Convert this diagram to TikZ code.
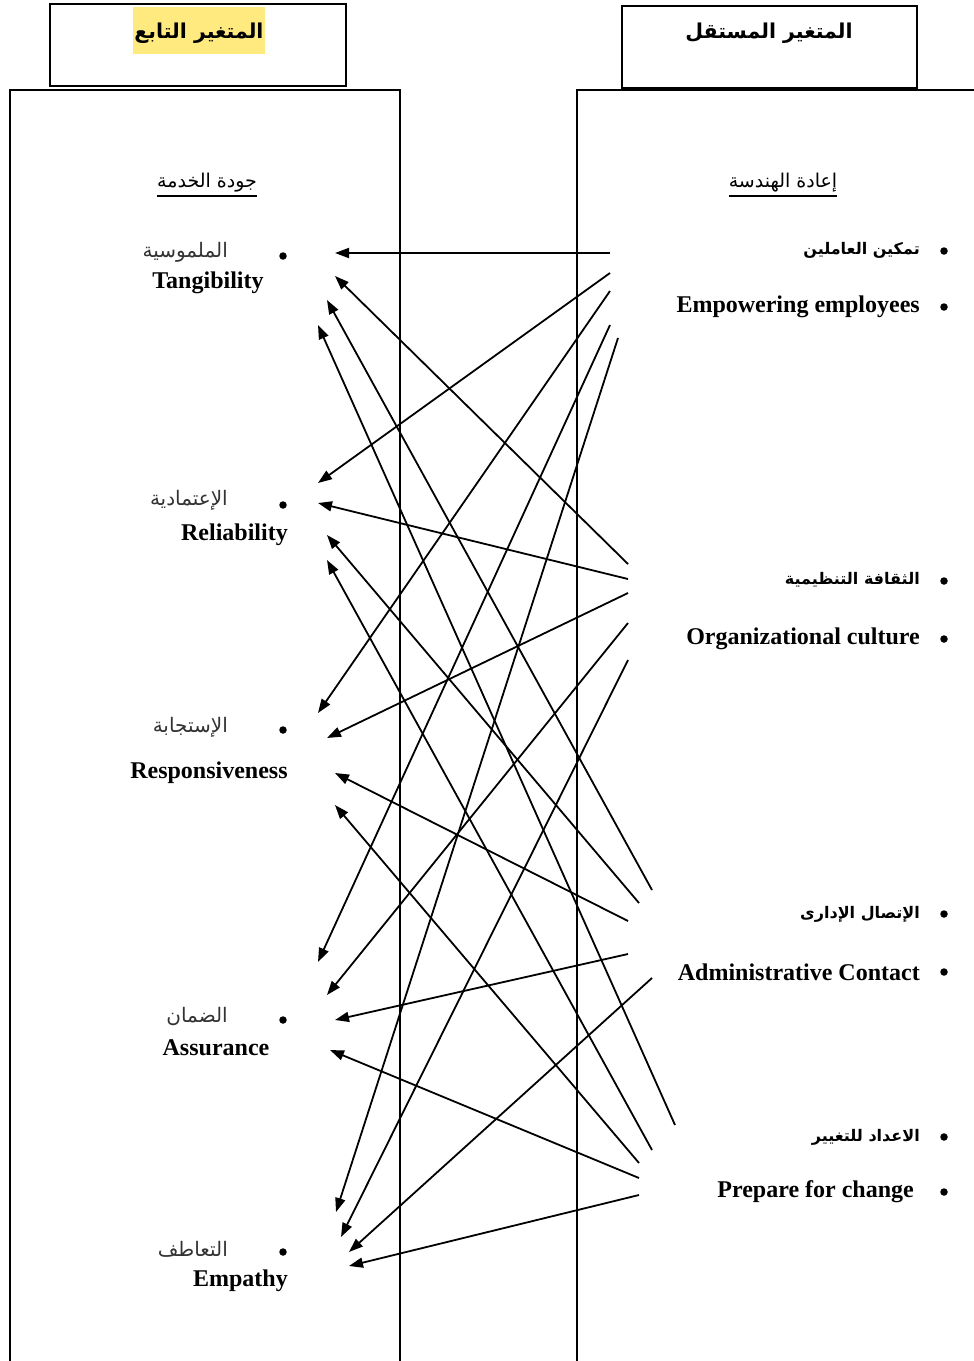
\documentclass[tikz,border=0pt]{standalone}
\usepackage{fontspec}
\setmainfont{Liberation Serif}
\newfontfamily\arabicfont[Script=Arabic]{DejaVu Sans}
\TeXXeTstate=1
\usetikzlibrary{arrows.meta}
\definecolor{hlyellow}{RGB}{255,234,128}
\tikzset{
  frame/.style={line width=1.6pt},
  hdr/.style={line width=1.9pt},
  en/.style={font=\bfseries\fontsize{24}{28}\selectfont, inner sep=0pt},
  arL/.style={font=\arabicfont\fontsize{20}{24}\selectfont, inner sep=0pt, anchor=east, text=black!80},
  arR/.style={font=\arabicfont\bfseries\fontsize{16}{19}\selectfont, inner sep=0pt, anchor=east},
  arH/.style={font=\arabicfont\bfseries\fontsize{20.5}{24}\selectfont, inner sep=0pt},
  arU/.style={font=\arabicfont\fontsize{19}{22}\selectfont, inner sep=0pt},
  ul/.style={line width=1.4pt},
  bdot/.style={circle, fill, inner sep=0pt, minimum size=7.5pt},
  link/.style={line width=1.8pt, -{Triangle[length=14pt,width=10pt]}},
}
\begin{document}
\begin{tikzpicture}[x=1pt,y=-1pt]
\useasboundingbox (0,0) rectangle (974,1361);
\fill[white] (0,0) rectangle (974,1361);

% header boxes
\node[fill=hlyellow, minimum width=132pt, minimum height=47pt, inner sep=0pt] (hl) at (199,30) {};
\node[arH] (depT) at (199,33) {\beginR المتغير التابع\endR};
\draw[hdr] (50,4) rectangle (346,86);
\draw[hdr] (622,6) rectangle (917,88);
\draw[line width=2.8pt] (622,88) -- (917,88);
\node[arH] (indT) at (769,33) {\beginR المتغير المستقل\endR};

% big frames
\draw[frame] (10,1370) -- (10,90) -- (400,90) -- (400,1370);
\draw[frame] (577,1370) -- (577,90) -- (980,90);

% sub-headers
\node[arU] (jq) at (207,183) {\beginR جودة الخدمة\endR};
\draw[ul] (jq.west |- 0,196) -- (jq.east |- 0,196);
\node[arU] (ih) at (783,183) {\beginR إعادة الهندسة\endR};
\draw[ul] (ih.west |- 0,196) -- (ih.east |- 0,196);

% left items
\node[arL] (tanA) at (228,252) {\beginR الملموسية\endR};
\node[en] (tanE) at (208,283) {Tangibility};
\node[bdot] (tanD) at (283,256) {};
\node[arL] (relA) at (228,500) {\beginR الإعتمادية\endR};
\node[en, anchor=east] (relE) at (288,535) {Reliability};
\node[bdot] (relD) at (283,505) {};
\node[arL] (resA) at (228,727) {\beginR الإستجابة\endR};
\node[en] (resE) at (209,773) {Responsiveness};
\node[bdot] (resD) at (283,730) {};
\node[arL] (asuA) at (228,1017) {\beginR الضمان\endR};
\node[en] (asuE) at (216,1048) {Assurance};
\node[bdot] (asuD) at (283,1020) {};
\node[arL] (empA) at (228,1249) {\beginR التعاطف\endR};
\node[en, anchor=east] (empE) at (288,1281) {Empathy};
\node[bdot] (empD) at (283,1252) {};

% right items
\node[arR] (eA) at (920,250) {\beginR تمكين العاملين\endR};
\node[bdot] (eAd) at (944,251) {};
\node[en, anchor=east] (eE) at (920,307) {Empowering employees};
\node[bdot] (eEd) at (944,307) {};
\node[arR] (oA) at (920,580) {\beginR الثقافة التنظيمية\endR};
\node[bdot] (oAd) at (944,581) {};
\node[en, anchor=east] (oE) at (920,639) {Organizational culture};
\node[bdot] (oEd) at (944,639) {};
\node[arR] (aA) at (920,914) {\beginR الإتصال الإدارى\endR};
\node[bdot] (aAd) at (944,914) {};
\node[en, anchor=east] (aE) at (920,972) {Administrative Contact};
\node[bdot] (aEd) at (944,972) {};
\node[arR] (pA) at (920,1137) {\beginR الاعداد للتغيير\endR};
\node[bdot] (pAd) at (944,1137) {};
\node[en, anchor=east] (pE) at (914,1192) {Prepare for change};
\node[bdot] (pEd) at (944,1192) {};

% connector end points
\coordinate (e1) at (610,253);  \coordinate (tan1) at (335,253);
\coordinate (e2) at (610,273);  \coordinate (rel1) at (318,483);
\coordinate (e3) at (610,291);  \coordinate (res1) at (318,713);
\coordinate (e4) at (610,325);  \coordinate (asu1) at (318,962);
\coordinate (e5) at (618,338);  \coordinate (emp1) at (336,1212);
\coordinate (o1) at (628,564);  \coordinate (tan2) at (335,276);
\coordinate (o2) at (628,579);  \coordinate (rel2) at (318,503);
\coordinate (o3) at (628,593);  \coordinate (res2) at (327,738);
\coordinate (o4) at (628,623);  \coordinate (asu2) at (327,995);
\coordinate (o5) at (628,660);  \coordinate (emp2) at (341,1237);
\coordinate (a1) at (652,890);  \coordinate (tan3) at (327,300);
\coordinate (a2) at (639,903);  \coordinate (rel3) at (327,535);
\coordinate (a3) at (628,921);  \coordinate (res3) at (335,773);
\coordinate (a4) at (628,954);  \coordinate (asu3) at (335,1020);
\coordinate (a5) at (652,978);  \coordinate (emp3) at (349,1252);
\coordinate (p1) at (675,1125); \coordinate (tan4) at (318,325);
\coordinate (p2) at (652,1150); \coordinate (rel4) at (327,560);
\coordinate (p3) at (639,1163); \coordinate (res4) at (335,805);
\coordinate (p4) at (639,1178); \coordinate (asu4) at (330,1050);
\coordinate (p5) at (639,1195); \coordinate (emp4) at (349,1266);

\foreach \s/\t in {e1/tan1,e2/rel1,e3/res1,e4/asu1,e5/emp1,
                   o1/tan2,o2/rel2,o3/res2,o4/asu2,o5/emp2,
                   a1/tan3,a2/rel3,a3/res3,a4/asu3,a5/emp3,
                   p1/tan4,p2/rel4,p3/res4,p4/asu4,p5/emp4}
  \draw[link] (\s) -- (\t);
\end{tikzpicture}
\end{document}
